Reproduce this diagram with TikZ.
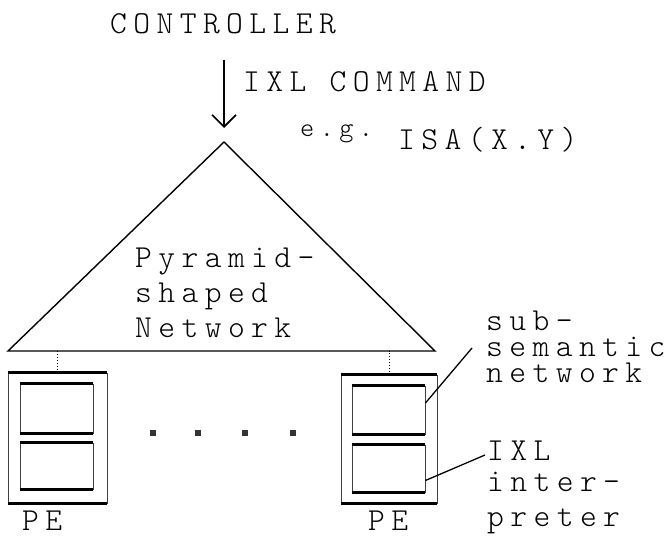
\documentclass[tikz,border=0pt]{standalone}
\usepackage{fontspec}
\usepackage{tikz}
\usepackage{xcolor}
\usetikzlibrary{arrows.meta}

\newfontfamily\twfam{lmmonolt10-regular}[Extension=.otf,LetterSpace=20]
\newcommand{\tw}{\twfam\fontsize{32}{34}\selectfont}

\begin{document}
\begin{tikzpicture}[x=1pt,y=-1pt,
  lbl/.style={anchor=base west,inner sep=0pt,font=\tw},
  pebox/.style={draw=black!75,line width=0.9pt,minimum width=#1,inner sep=0pt},
  edge/.style={line width=2.2pt},
  dotsq/.style={fill=black!80,minimum size=6pt,inner sep=0pt}]
\useasboundingbox (0,0) rectangle (666,537);
% texts
\node[lbl] (ctl) at (110,34) {CONTROLLER};
\node[lbl] (cmd) at (243,92) {IXL COMMAND};
\node[lbl,font=\twfam\fontsize{27}{28}\selectfont] (eg) at (300,137) {e.g.};
\node[lbl] (isa) at (398,150) {ISA(X.Y)};
\node[lbl] (pyr) at (135,267) {Pyramid-};
\node[lbl] (shp) at (135,302) {shaped};
\node[lbl] (net) at (135,337) {Network};
% pyramid
\coordinate (apex) at (224,142);
\coordinate (baseL) at (8,351);
\coordinate (baseR) at (435,351);
\draw[line width=1.4pt] (baseL) -- (apex) -- (baseR) -- cycle;
\coordinate (arrTop) at (224,60);
\draw[line width=1.3pt,-{Straight Barb[length=12pt,width=24pt,line width=1.6pt]},shorten >=14pt] (arrTop) -- (apex);
% processing elements
\node[pebox=99pt,minimum height=130pt] (peL) at (57.5,438) {};
\node[pebox=73pt,minimum height=49pt] (upL) at (56.5,408.5) {};
\node[pebox=73pt,minimum height=46pt] (loL) at (56.5,466) {};
\node[pebox=96pt,minimum height=128pt] (peR) at (389,439) {};
\node[pebox=73pt,minimum height=48pt] (upR) at (388.5,410) {};
\node[pebox=73pt,minimum height=47pt] (loR) at (388.5,468.5) {};
\foreach \n in {peL,upL,loL,peR,upR,loR}
  \draw[edge] (\n.north west) -- (\n.north east) (\n.south west) -- (\n.south east);
\draw[dotted,line width=0.9pt] (peL.north) -- (peL.north |- baseL);
\draw[dotted,line width=0.9pt] (peR.north) -- (peR.north |- baseR);
\foreach \x in {153,198,245,293}
  \node[dotsq] (d\x) at (\x,433) {};
\node[lbl] (peLl) at (22,530) {PE};
\node[lbl] (peRl) at (368,530) {PE};
% side labels
\node[lbl] (sub) at (486,330) {sub-};
\node[lbl] (sem) at (486,356) {semantic};
\node[lbl] (nwk) at (486,382) {network};
\node[lbl] (ixl) at (487,460) {IXL};
\node[lbl] (int) at (487,491) {inter-};
\node[lbl] (prt) at (487,526) {preter};
\coordinate (semTip) at (472,348);
\coordinate (ixlTip) at (485,455);
\draw[line width=1.3pt] ([yshift=7pt]upR.east) -- (semTip);
\draw[line width=1.3pt] ([yshift=-12pt]loR.east) -- (ixlTip);
\end{tikzpicture}
\end{document}
